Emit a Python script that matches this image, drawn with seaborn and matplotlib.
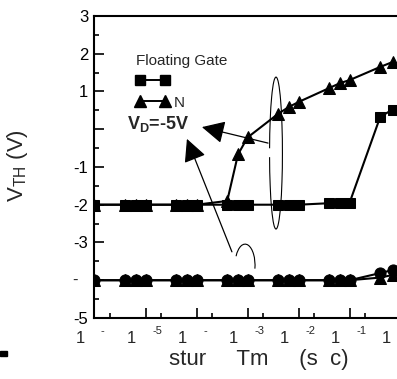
import numpy as np
import pandas as pd
import matplotlib
matplotlib.use("Agg")
import matplotlib.pyplot as plt
import seaborn as sns
from matplotlib.lines import Line2D
from matplotlib.patches import Arc, Rectangle
from matplotlib.ticker import LogLocator, MultipleLocator, NullFormatter, FixedLocator
from matplotlib.transforms import blended_transform_factory, offset_copy

# Daten
stress_time = [1e-6, 4e-6, 6.5e-6, 1e-5, 4e-5, 6.5e-5, 1e-4, 4e-4, 6.5e-4, 1e-3,
               4e-3, 6.5e-3, 1e-2, 4e-2, 6.5e-2, 1e-1, 0.4, 0.7]
vth_fg_top = [-2, -2, -2, -2, -2, -2, -2, -2, -2, -2,
              -2, -2, -2, -1.96, -1.95, -1.95, 0.33, 0.52]
vth_n_top = [-2, -2, -2, -2, -2, -2, -2, -1.9, -0.67, -0.22,
             0.41, 0.59, 0.72, 1.09, 1.22, 1.3, 1.65, 1.78]
vth_fg_bottom = [-4, -4, -4, -4, -4, -4, -4, -4, -4, -4,
                 -4, -4, -4, -4, -4, -4, -3.81, -3.73]
vth_n_bottom = [-4, -4, -4, -4, -4, -4, -4, -4, -4, -4,
                -4, -4, -4, -4, -4, -4, -3.93, -3.86]

y_ticks = [-5, -4, -3, -2, -1, 0, 1, 2, 3]
y_ticklabels = ["-5", "", "-3", "-2", "-1", "", "1", "2", "3"]
x_exponents = [-6, -5, -4, -3, -2, -1, 0]
x_superscripts = ["-", "-5", "-", "-3", "-2", "-1", ""]

df = pd.DataFrame({
    "t": stress_time,
    "fg_top": vth_fg_top,
    "n_top": vth_n_top,
    "fg_bottom": vth_fg_bottom,
    "n_bottom": vth_n_bottom,
})

sns.set_theme(style="white")
plt.rcParams["font.family"] = ["Liberation Sans", "DejaVu Sans"]
plt.rcParams["mathtext.fontset"] = "custom"
plt.rcParams["mathtext.rm"] = "Liberation Sans"
plt.rcParams["mathtext.bf"] = "Liberation Sans:bold"
plt.rcParams["mathtext.default"] = "regular"

fig = plt.figure(figsize=(3.97, 3.79), dpi=100)
ax = fig.add_axes([0.238, 0.161, 0.771, 0.797])

line_kw = dict(color="black", linewidth=1.5, markeredgecolor="black", legend=False)
sns.lineplot(data=df, x="t", y="n_bottom", marker="^", markersize=9, ax=ax, **line_kw)
sns.lineplot(data=df, x="t", y="fg_bottom", marker="o", markersize=8, ax=ax, **line_kw)
sns.lineplot(data=df, x="t", y="n_top", marker="^", markersize=9, ax=ax, **line_kw)
sns.lineplot(data=df, x="t", y="fg_top", marker="s", markersize=7.5, ax=ax, **line_kw)

ax.set_xscale("log")
ax.set_xlim(1e-6, 1)
ax.set_ylim(-5, 3)

# Achsen
for side in ["left", "bottom", "top", "right"]:
    ax.spines[side].set_linewidth(1.5)
    ax.spines[side].set_color("black")

ax.xaxis.set_major_locator(FixedLocator([10.0 ** e for e in x_exponents]))
ax.xaxis.set_minor_locator(LogLocator(base=10, subs=[2], numticks=20))
ax.xaxis.set_major_formatter(NullFormatter())
ax.xaxis.set_minor_formatter(NullFormatter())
ax.set_yticks(y_ticks)
ax.set_yticklabels(y_ticklabels)
ax.yaxis.set_minor_locator(MultipleLocator(0.5))
ax.tick_params(which="both", direction="in", left=True, bottom=True, top=False, right=False,
               width=1.2, color="black")
ax.tick_params(which="major", length=7)
ax.tick_params(which="minor", length=3.5)
ax.tick_params(axis="y", labelsize=12, pad=4.5, labelcolor="black")

# y-Label "-" bei -4
ax.text(-0.065, -4, "-", transform=blended_transform_factory(ax.transAxes, ax.transData),
        ha="center", va="center", fontsize=12)

# x-Tick-Labels (1 mit Hochzahl)
blend = blended_transform_factory(ax.transData, ax.transAxes)
for e, sup in zip(x_exponents, x_superscripts):
    ax.text(10.0 ** e, -0.0695, "1", fontsize=12, ha="center", va="center",
            transform=offset_copy(blend, fig=fig, x=-14, y=0, units="dots"), clip_on=False)
    if sup:
        ax.text(10.0 ** e, -0.043, sup, fontsize=8, ha="left", va="center",
                transform=offset_copy(blend, fig=fig, x=6.5, y=0, units="dots"), clip_on=False)

ax.set_xlabel("stur     Tm     (s  c)", fontsize=16)
ax.xaxis.set_label_coords(0.536, -0.136)
ax.xaxis.label.set_va("center")
ax.set_ylabel(r"$V_{TH}$ (V)", fontsize=16)
ax.yaxis.set_label_coords(-0.25, 0.503)
ax.yaxis.label.set_va("center")

# Legende
handles = [
    Line2D([], [], color="black", marker="s", markersize=7.5, linewidth=1.4),
    Line2D([], [], color="black", marker="^", markersize=9, linewidth=1.4),
]
leg = ax.legend(handles, ["", "N"], title="Floating Gate", loc="upper left",
                bbox_to_anchor=(0.11, 0.9), frameon=False, numpoints=2,
                handlelength=2.2, handletextpad=0.3, borderpad=0, labelspacing=0.45,
                fontsize=11, title_fontsize=11, alignment="left")

ax.text(0.106, 0.642, r"$\mathbf{V_D}$=-5V", transform=ax.transAxes, fontsize=13,
        fontweight="bold", ha="left", va="center")

# Ellipsen und Pfeile
ax.add_patch(Arc((0.593, 0.546), 0.042, 0.503, theta1=-147, theta2=143,
                 transform=ax.transAxes, color="black", linewidth=0.8, clip_on=False))
ax.add_patch(Arc((0.492, 0.175), 0.065, 0.139, theta1=-20, theta2=135,
                 transform=ax.transAxes, color="black", linewidth=0.8, clip_on=False))
arrow_style = "-|>,head_length=1.4,head_width=0.7"
ax.annotate("", xy=(0.351, 0.632), xytext=(0.567, 0.579), xycoords="axes fraction",
            arrowprops=dict(arrowstyle=arrow_style, color="black", lw=0.9,
                            shrinkA=0, shrinkB=0, mutation_scale=10))
ax.annotate("", xy=(0.302, 0.593), xytext=(0.449, 0.219), xycoords="axes fraction",
            arrowprops=dict(arrowstyle=arrow_style, color="black", lw=0.9,
                            shrinkA=0, shrinkB=0, mutation_scale=10))

fig.add_artist(Rectangle((0, 23 / 379), 7 / 397, 5 / 379, transform=fig.transFigure,
                         color="black"))

fig.savefig("out.png", dpi=100)
